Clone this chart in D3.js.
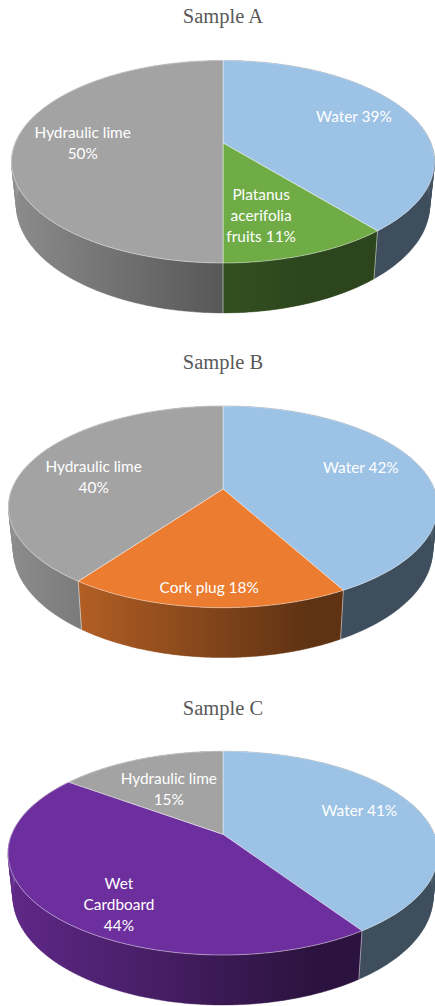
<!DOCTYPE html>
<html>
<head>
    <meta charset="utf-8">
    <title>Sample pies</title>
    <script src="https://d3js.org/d3.v7.min.js"></script>
    <style>
        html, body { margin: 0; padding: 0; background: #fff; }
        svg { display: block; }
    </style>
</head>
<body>
    <script>
        var titles = ["Sample A", "Sample B", "Sample C"];
        var categoriesA = ["Water", "Platanus acerifolia fruits", "Hydraulic lime"];
        var categoriesB = ["Water", "Cork plug", "Hydraulic lime"];
        var categoriesC = ["Water", "Wet Cardboard", "Hydraulic lime"];
        var valuesA = [39, 11, 50];
        var valuesB = [42, 18, 40];
        var valuesC = [40.6, 44.4, 15];

        var color = d3.scaleOrdinal()
            .domain(["Water", "Platanus acerifolia fruits", "Cork plug", "Wet Cardboard", "Hydraulic lime"])
            .range(["#9cc2e5", "#6fac46", "#eb7c30", "#6e2f9e", "#a3a3a3"]);

        // perspective of each disc, measured on the picture
        var layouts = [
            { titleY: 23, cx: 223, apex: 143, front: 120, back: 82.5, halfWidth: 211.5,
              lines: [["Water 39%"], ["Platanus", "acerifolia", "fruits 11%"], ["Hydraulic lime", "50%"]],
              nudge: [[-2, -3], [-18, 0], [-1, 0]] },
            { titleY: 369, cx: 223, apex: 489, front: 118.7, back: 83, halfWidth: 214.5,
              lines: [["Water 42%"], ["Cork plug 18%"], ["Hydraulic lime", "40%"]],
              nudge: [[-1, -5], [0, -3], [6, 9]] },
            { titleY: 715, cx: 223, apex: 834.3, front: 120.7, back: 83, halfWidth: 215,
              lines: [["Water 41%"], ["Wet", "Cardboard", "44%"], ["Hydraulic lime", "15%"]],
              nudge: [[0, -4], [13, 18], [6, 10]] }
        ];
        var labelFrac = [[0.71, 0.7, 0.67], [0.7, 0.88, 0.7], [0.7, 0.7, 0.7]];

        var svg = d3.select("body").append("svg")
            .attr("width", 435)
            .attr("height", 1006);
        var defs = svg.append("defs");

        var pie = d3.pie().sort(null);
        var line = d3.line();

        // wall shade: factor of the base colour along the page
        var shade = d3.scaleLinear().domain([12, 310]).range([0.86, 0.4]).clamp(true);
        var shadeGreen = d3.scaleLinear().domain([12, 310]).range([0.62, 0.4]).clamp(true);

        function disc(l) {
            var c = -(l.front - l.back) / (l.front + l.back);
            var A = l.front * (1 + c);
            var r = l.halfWidth * Math.sqrt(1 - c * c);
            function top(a, f) {
                var u = f * Math.sin(a), v = -f * Math.cos(a), w = 1 + c * v;
                return [l.cx + r * u / w, l.apex + A * v / w];
            }
            function bottom(a) {
                var u = Math.sin(a), v = -Math.cos(a), w = 1 + c * v;
                return [l.cx + 0.977 * r * u / w, l.apex + 42.4 + 1.063 * A * v / w];
            }
            return { top: top, bottom: bottom };
        }

        function arcAngles(s) {
            return d3.range(0, 121).map(function(i) {
                return s.startAngle + (s.endAngle - s.startAngle) * i / 120;
            });
        }

        function wallPath(d, angles) {
            // small quads so the outline follows the side of the disc
            var out = "";
            for (var i = 0; i < angles.length - 1; i++) {
                var a = d.top(angles[i], 1), b = d.top(angles[i + 1], 1);
                var p = d.bottom(angles[i + 1]), q = d.bottom(angles[i]);
                out += line([a, b, p, q]) + "Z";
            }
            return out;
        }

        function drawPie(index, cats, values) {
            var l = layouts[index];
            var d = disc(l);
            var slices = pie(values);
            var g = svg.append("g");

            svg.append("text")
                .attr("x", l.cx)
                .attr("y", l.titleY)
                .attr("text-anchor", "middle")
                .attr("font-family", "Liberation Serif")
                .attr("font-size", 20.5)
                .attr("fill", "#595959")
                .text(titles[index]);

            slices.forEach(function(s, i) {
                var id = "wall" + index + "_" + i;
                var base = d3.rgb(color(cats[i]));
                var tone = cats[i].indexOf("Platanus") === 0 ? shadeGreen : shade;
                var grad = defs.append("linearGradient")
                    .attr("id", id)
                    .attr("gradientUnits", "userSpaceOnUse")
                    .attr("x1", 12).attr("x2", 310).attr("y1", 0).attr("y2", 0);
                [12, 310].forEach(function(px) {
                    var k = tone(px);
                    grad.append("stop")
                        .attr("offset", (px - 12) / 298)
                        .attr("stop-color", d3.rgb(base.r * k, base.g * k, base.b * k).formatHex());
                });

                g.append("path")
                    .attr("d", wallPath(d, arcAngles(s)))
                    .attr("fill", "url(#" + id + ")")
                    .attr("stroke", "url(#" + id + ")")
                    .attr("stroke-width", 0.4);
            });

            // light seams between the walls
            slices.forEach(function(s) {
                g.append("path")
                    .attr("d", line([d.top(s.startAngle, 1), d.bottom(s.startAngle)]))
                    .attr("stroke", "#fff")
                    .attr("stroke-opacity", 0.6)
                    .attr("stroke-width", 0.8);
            });

            slices.forEach(function(s, i) {
                var pts = [d.top(0, 0)].concat(arcAngles(s).map(function(a) { return d.top(a, 1); }));
                g.append("path")
                    .attr("d", line(pts) + "Z")
                    .attr("fill", color(cats[i]))
                    .attr("stroke", "#fff")
                    .attr("stroke-opacity", 0.55)
                    .attr("stroke-width", 0.8)
                    .attr("stroke-linejoin", "round");
            });

            slices.forEach(function(s, i) {
                var p = d.top((s.startAngle + s.endAngle) / 2, labelFrac[index][i]);
                var rows = l.lines[i];
                var text = g.append("text")
                    .attr("text-anchor", "middle")
                    .attr("font-family", "Lato")
                    .attr("font-size", 15.4)
                    .attr("fill", "#fff");
                rows.forEach(function(row, j) {
                    text.append("tspan")
                        .attr("x", p[0] + l.nudge[i][0])
                        .attr("y", p[1] + l.nudge[i][1] + 5 + (j - (rows.length - 1) / 2) * 21)
                        .text(row);
                });
            });
        }

        drawPie(0, categoriesA, valuesA);
        drawPie(1, categoriesB, valuesB);
        drawPie(2, categoriesC, valuesC);
    </script>
</body>
</html>
